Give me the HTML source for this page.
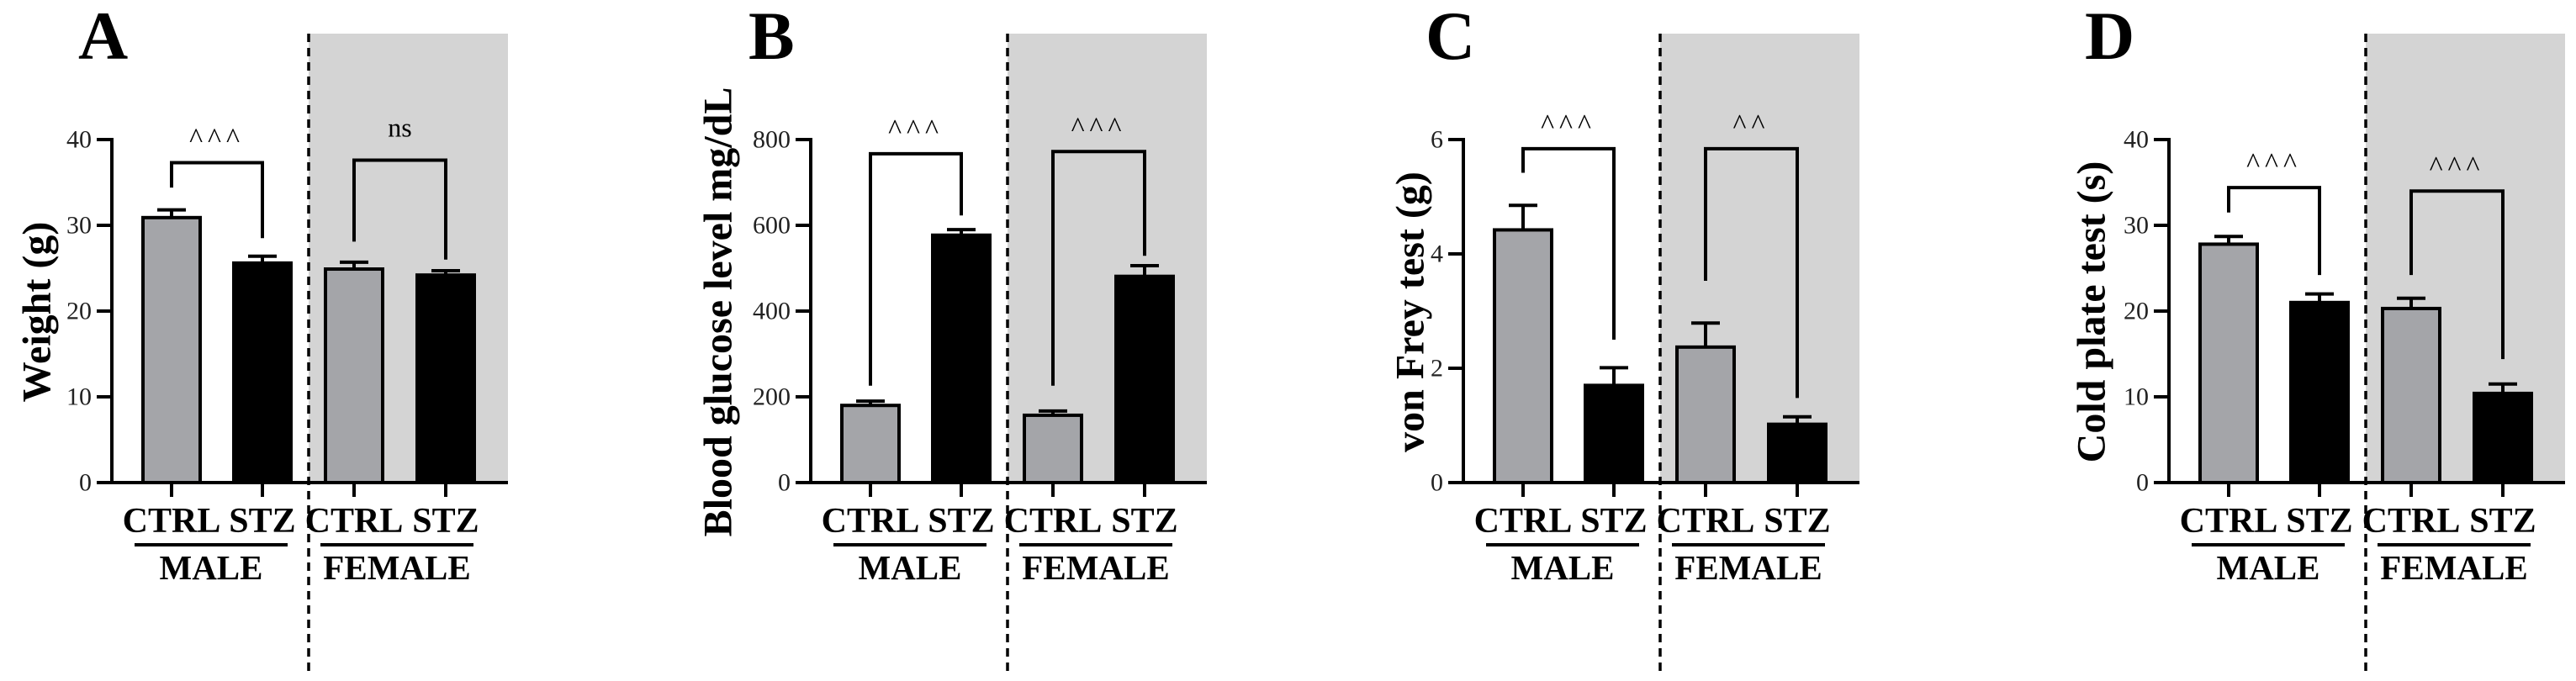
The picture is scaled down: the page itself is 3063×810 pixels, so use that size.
<!DOCTYPE html>
<html><head><meta charset="utf-8">
<style>
html,body{margin:0;padding:0;background:#fff;}
svg{display:block;font-family:"Liberation Serif","Times New Roman",serif;}
</style></head>
<body>
<svg id="fig" width="3063" height="810" viewBox="0 0 3063 810" xmlns="http://www.w3.org/2000/svg"></svg>
<script>
// ---- data ----
const panelLetters = ["A","B","C","D"];
const panelTitles = ["Weight (g)","Blood glucose level mg/dL","von Frey test (g)","Cold plate test (s)"];
const categories = ["CTRL","STZ","CTRL","STZ"];
const groups = ["MALE","FEMALE"];
const yMaxes = [40, 800, 6, 40];
const yTicksA = [0,10,20,30,40];
const yTicksB = [0,200,400,600,800];
const yTicksC = [0,2,4,6];
const yTicksD = [0,10,20,30,40];
const meansA = [30.9, 25.6, 24.9, 24.2];
const errsA  = [0.9, 0.8, 0.8, 0.5];
const meansB = [180, 577, 157, 481];
const errsB  = [10, 13, 10, 25];
const meansC = [4.42, 1.70, 2.37, 1.02];
const errsC  = [0.43, 0.31, 0.42, 0.13];
const meansD = [27.8, 21.0, 20.3, 10.4];
const errsD  = [0.9, 1.0, 1.2, 1.1];
// brackets: [top, left leg end, right leg end] for male, female
const bracketMaleA = [37.3, 34.4, 28.5];
const bracketFemaleA = [37.6, 28.1, 26.0];
const bracketMaleB = [767, 226, 623];
const bracketFemaleB = [772, 226, 529];
const bracketMaleC = [5.84, 5.42, 2.50];
const bracketFemaleC = [5.84, 3.53, 1.48];
const bracketMaleD = [34.4, 31.5, 24.2];
const bracketFemaleD = [34.0, 24.2, 14.4];
const sigLabels = [["^^^","ns"],["^^^","^^^"],["^^^","^^"],["^^^","^^^"]];

const panelTicks = [yTicksA,yTicksB,yTicksC,yTicksD];
const panelMeans = [meansA,meansB,meansC,meansD];
const panelErrs = [errsA,errsB,errsC,errsD];
const panelBrackets = [[bracketMaleA,bracketFemaleA],[bracketMaleB,bracketFemaleB],[bracketMaleC,bracketFemaleC],[bracketMaleD,bracketFemaleD]];

// ---- layout ----
const axisX = [133, 964, 1740, 2579];
const titleOff = [-89, -110, -63, -92];
const letterOff = [-40, -74, -45, -100];
const Y0 = 574, Y1 = 166;
const barOffsets = [71, 179, 288, 397];
const BW = 68;
const NS = "http://www.w3.org/2000/svg";
const svg = document.getElementById("fig");

function el(tag, attrs, parent, text){
  const e = document.createElementNS(NS, tag);
  for (const k in attrs) e.setAttribute(k, attrs[k]);
  if (text !== undefined) e.textContent = text;
  (parent||svg).appendChild(e);
  return e;
}

for (let p = 0; p < 4; p++){
  const x0 = axisX[p];
  const ymax = yMaxes[p];
  const yS = v => Y0 - (v / ymax) * (Y0 - Y1);
  const g = el("g", {});
  
  

  const sh = el("rect", {x:x0+234, y:40, width:237, height:Y0-40, fill:"#d4d4d4"}, g);
  
  

  const lt = el("text", {x:x0+letterOff[p], y:70, "font-size":82, "font-weight":"bold"}, g, panelLetters[p]);
  
  

  const tx = x0 + titleOff[p];
  const yt = el("text", {x:tx, y:371, "font-size":48, "font-weight":"bold", "text-anchor":"middle", "dominant-baseline":"central", transform:`rotate(-90 ${tx} 371)`}, g, panelTitles[p]);
  
  

  for (let i = 0; i < 4; i++){
    const cx = x0 + barOffsets[i];
    const m = panelMeans[p][i], e = panelErrs[p][i];
    const ctrl = i % 2 === 0;
    const eg = el("g", {stroke:"#000","stroke-width":4}, g);
    
    
    el("line", {x1:cx, x2:cx, y1:yS(m), y2:yS(m+e)}, eg);
    el("line", {x1:cx-17, x2:cx+17, y1:yS(m+e), y2:yS(m+e)}, eg);
    const b = el("rect", {x:cx-BW/2, y:yS(m), width:BW, height:Y0-yS(m), fill: ctrl ? "#a4a5a9" : "#000", stroke:"#000", "stroke-width":4}, g);
    
    
  }

  const ax = el("g", {stroke:"#000","stroke-width":4, fill:"none"}, g);
  
  
  el("line", {x1:x0, x2:x0, y1:Y1-2, y2:Y0+2}, ax);
  el("line", {x1:x0-18, x2:x0+471, y1:Y0, y2:Y0}, ax);
  panelTicks[p].forEach(t => {
    el("line", {x1:x0-18, x2:x0, y1:yS(t), y2:yS(t)}, ax);
    const tl = el("text", {x:x0-24, y:yS(t), "font-size":30, "text-anchor":"end", "dominant-baseline":"central", fill:"#222", stroke:"none"}, g, String(t));
    
    
  });
  for (let i = 0; i < 4; i++){
    const cx = x0 + barOffsets[i];
    el("line", {x1:cx, x2:cx, y1:Y0, y2:Y0+17}, ax);
    const cl = el("text", {x:cx, y:633, "font-size":42, "font-weight":"bold", "text-anchor":"middle"}, g, categories[i]);
    
    
  }
  const gStarts = [27, 248], gEnds = [209, 430];
  for (let k = 0; k < 2; k++){
    el("line", {x1:x0+gStarts[k], x2:x0+gEnds[k], y1:648, y2:648, stroke:"#000","stroke-width":4}, g);
    const gl = el("text", {x:x0+(gStarts[k]+gEnds[k])/2, y:689, "font-size":41, "font-weight":"bold", "text-anchor":"middle"}, g, groups[k]);
    
    
  }
  for (let k = 0; k < 2; k++){
    const br = panelBrackets[p][k];
    const xl = x0 + barOffsets[2*k], xr = x0 + barOffsets[2*k+1];
    const pth = el("path", {d:`M${xl} ${yS(br[1])} V${yS(br[0])} H${xr} V${yS(br[2])}`, fill:"none", stroke:"#000", "stroke-width":4}, g);
    
    
    const lab = sigLabels[p][k];
    const isNs = lab === "ns";
    const st = el("text", {x:(xl+xr)/2, y: yS(br[0]) - (isNs ? 28 : 18), "font-size": isNs ? 32 : 34, "text-anchor":"middle", "letter-spacing": isNs ? 0 : 6}, g, lab);
    
    
  }
  const dv = el("line", {x1:x0+234, x2:x0+234, y1:40, y2:800, stroke:"#000", "stroke-width":3.5, "stroke-dasharray":"10 7"}, g);
  
  
}
</script>
</body></html>
